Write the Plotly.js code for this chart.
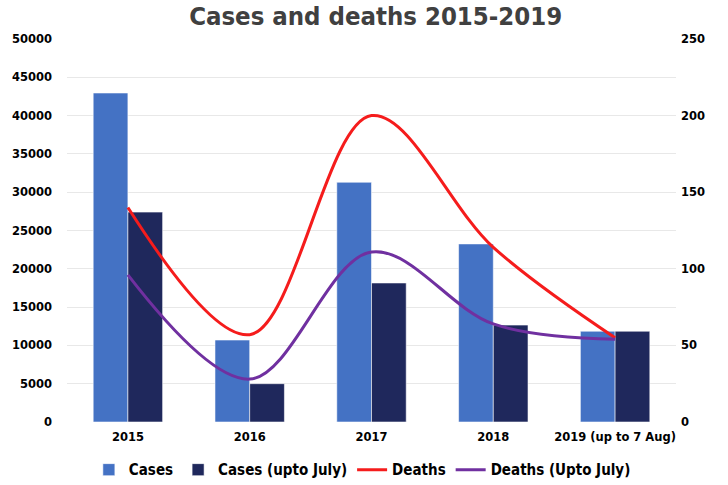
<!DOCTYPE html>
<html>
<head>
<meta charset="utf-8">
<script src="https://cdn.plot.ly/plotly-3.0.1.min.js"></script>
<style>html,body{margin:0;padding:0;background:#fff;}#chart{width:728px;height:485px;}</style>
</head>
<body>
<div id="chart"></div>
<script>
const categories = ["2015", "2016", "2017", "2018", "2019 (up to 7 Aug)"];
const cases = [42950, 10700, 31300, 23250, 11850];
const casesUptoJuly = [27400, 5000, 18150, 12650, 11850];
const deaths = [140, 57, 200, 114, 55];
const deathsUptoJuly = [96, 28, 111, 64, 54];
const leftTicks = [0, 5000, 10000, 15000, 20000, 25000, 30000, 35000, 40000, 45000, 50000];
const rightTicks = [0, 50, 100, 150, 200, 250];

const narrow = '"DejaVu Sans Condensed", "Liberation Sans Narrow", sans-serif';
const tickFont = {family: '"DejaVu Sans", sans-serif', size: 11.5, color: '#000', weight: 'bold'};

const traces = [
  {type: 'bar', name: 'Cases', x: categories, y: cases, yaxis: 'y',
   marker: {color: '#4472C4', line: {color: 'rgba(255,255,255,0.55)', width: 1}}},
  {type: 'bar', name: 'Cases (upto July)', x: categories, y: casesUptoJuly, yaxis: 'y',
   marker: {color: '#1F285C', line: {color: 'rgba(255,255,255,0.55)', width: 1}}},
  {type: 'scatter', mode: 'lines', name: 'Deaths', x: categories, y: deaths, yaxis: 'y2',
   line: {color: '#F51C1C', width: 3, shape: 'spline', smoothing: 1}},
  {type: 'scatter', mode: 'lines', name: 'Deaths (Upto July)', x: categories, y: deathsUptoJuly, yaxis: 'y2',
   line: {color: '#7030A0', width: 3, shape: 'spline', smoothing: 1}}
];

const layout = {
  width: 728, height: 485,
  margin: {l: 67, r: 52, t: 39, b: 63, autoexpand: false},
  paper_bgcolor: '#fff', plot_bgcolor: '#fff',
  title: {text: 'Cases and deaths 2015-2019', x: 0.516, xref: 'container', xanchor: 'center',
          y: 0.966, yref: 'container', yanchor: 'middle',
          font: {family: narrow, size: 25.5, color: '#404040', weight: 'bold'}},
  barmode: 'group', bargap: 0.43, bargroupgap: 0,
  showlegend: true,
  legend: {orientation: 'h', x: 0.485, xanchor: 'center', y: -0.125, yanchor: 'middle',
           font: {family: narrow, size: 15, color: '#000', weight: 'bold'}, traceorder: 'normal',
           itemwidth: 30, tracegroupgap: 0},
  xaxis: {type: 'category', tickfont: tickFont, showgrid: false, zeroline: false, showline: false,
          ticks: '', ticklabelstandoff: 6},
  yaxis: {range: [0, 50000], tickvals: leftTicks, ticktext: leftTicks.map(String), tickfont: tickFont,
          showgrid: true, gridcolor: '#E8E8E8', gridwidth: 1, zeroline: false, showline: false,
          ticks: '', ticklabelstandoff: 14},
  yaxis2: {range: [0, 250], tickvals: rightTicks, ticktext: rightTicks.map(String), tickfont: tickFont,
           overlaying: 'y', side: 'right', showgrid: false, zeroline: false, showline: false,
           ticks: '', ticklabelstandoff: 4}
};

Plotly.newPlot('chart', traces, layout, {displayModeBar: false, staticPlot: true});
</script>
</body>
</html>
